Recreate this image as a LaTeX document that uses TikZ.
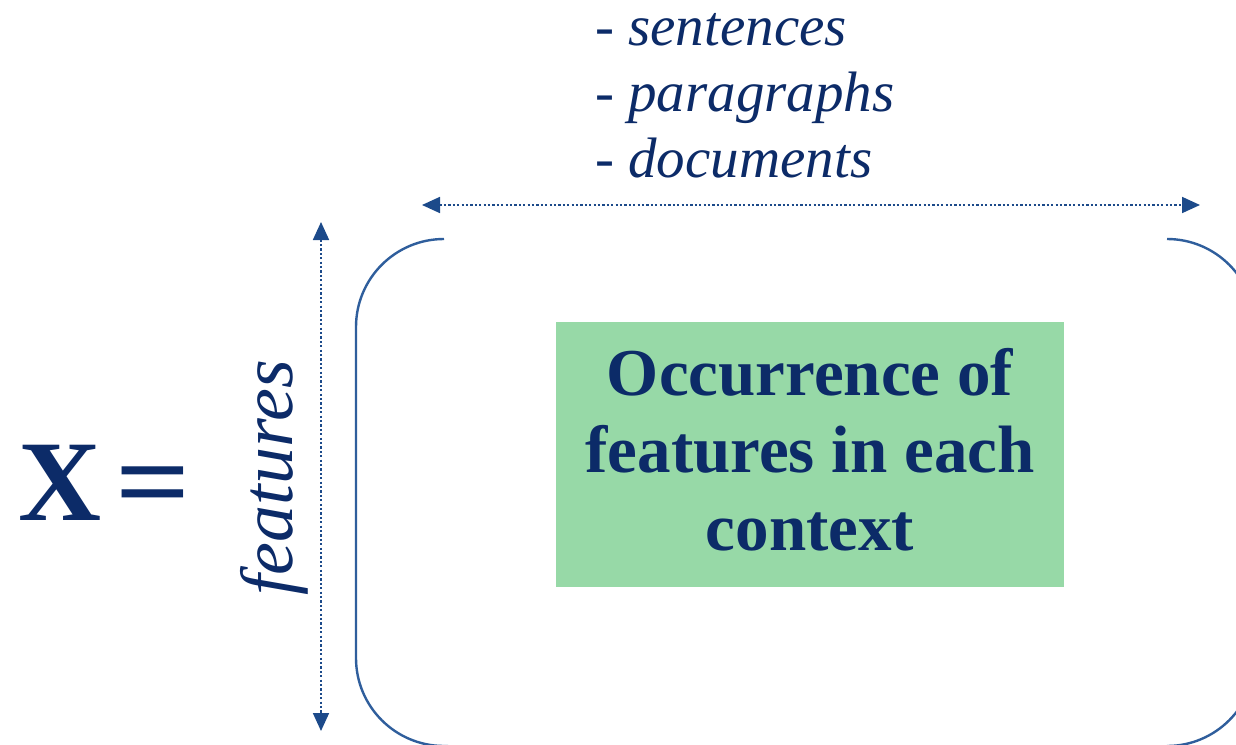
\documentclass[tikz,border=0pt]{standalone}
\usepackage{fontspec}
\setmainfont{Liberation Serif}
\usetikzlibrary{arrows.meta}
\definecolor{navy}{HTML}{0C2B68}
\definecolor{arrowblue}{HTML}{1C4A8A}
\definecolor{brackblue}{HTML}{2F5E9C}
\definecolor{boxgreen}{HTML}{97D9A7}
\tikzset{
  dimarrow/.style={arrowblue, line width=1.8pt, dash pattern=on 2.2pt off 2.2pt,
    {Triangle[length=18pt,width=16pt]}-{Triangle[length=18pt,width=16pt]}},
  brack/.style={brackblue, line width=2.4pt, rounded corners=88pt},
  itlabel/.style={navy, font=\fontsize{57}{66}\selectfont\itshape, inner sep=0pt},
  boxtext/.style={navy, font=\fontsize{67}{77}\selectfont\bfseries, inner sep=0pt},
}
\begin{document}
\begin{tikzpicture}[x=1pt,y=-1pt]
\useasboundingbox (0,0) rectangle (1236,744);
\fill[white] (0,0) rectangle (1236,744);
% brackets
\begin{scope}
\clip (0,0) rectangle (1236,744);
\draw[brack] (444,239) -- (356,239) -- (356,746) -- (448,746);
\draw[brack] (1167,239) -- (1255,239) -- (1255,746) -- (1167,746);
\end{scope}
% green box
\node[fill=boxgreen, minimum width=508pt, minimum height=265pt, inner sep=0pt] (box) at (810,454.5) {};
\node[boxtext, anchor=base] (t1) at (810,395) {Occurrence of};
\node[boxtext, anchor=base] (t2) at (810,472) {features in each};
\node[boxtext, anchor=base] (t3) at (810,550) {context};
% top labels
\node[itlabel, anchor=base west] (l1) at (595,45) {- sentences};
\node[itlabel, anchor=base west] (l2) at (595,111) {- paragraphs};
\node[itlabel, anchor=base west] (l3) at (595,177) {- documents};
% features label
\node[navy, font=\fontsize{74}{80}\selectfont\itshape, inner sep=0pt, rotate=90, anchor=base] (feat) at (292,478) {features};
% X =
\node[navy, font=\fontsize{115}{120}\selectfont\bfseries, inner sep=0pt, anchor=base west] (xeq) at (18,520) {X\hspace{14pt}\scalebox{1.15}[1]{=}};
% dimension arrows
\coordinate (hl) at (422,205);
\coordinate (hr) at (1200,205);
\coordinate (vt) at (321,222);
\coordinate (vb) at (321,731);
\draw[dimarrow] (hl) -- (hr);
\draw[dimarrow] (vt) -- (vb);
\end{tikzpicture}
\end{document}
